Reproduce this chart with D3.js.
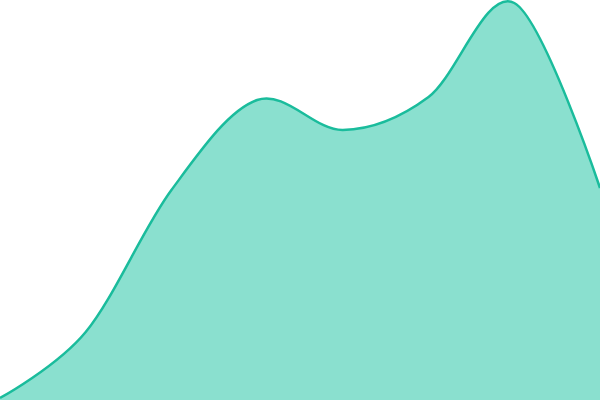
<!DOCTYPE html>
<html><head><meta charset="utf-8">
<script src="https://cdn.jsdelivr.net/npm/d3@7"></script>
<style>html,body{margin:0;padding:0;background:#fff}svg{display:block}</style>
</head><body>
<svg id="c" width="600" height="400"></svg>
<script>
const categories = [0,1,2,3,4,5,6,7];
const values = [2, 68, 210, 300, 270, 303, 397, 212];

const W = 600, H = 400;
const svg = d3.select("#c");
const x = d3.scaleLinear().domain([0, categories.length - 1]).range([0, W]);
const y = d3.scaleLinear().domain([0, 400]).range([H, 0]);
const data = categories.map((c, i) => ({c, v: values[i]}));

const area = d3.area().x(d => x(d.c)).y0(H).y1(d => y(d.v)).curve(d3.curveCardinal);
const line = d3.line().x(d => x(d.c)).y(d => y(d.v)).curve(d3.curveCardinal);

svg.append("path").datum(data).attr("d", area).attr("fill", "#8ae0cf");
svg.append("path").datum(data).attr("d", line).attr("fill", "none").attr("stroke", "#1abc9c").attr("stroke-width", 2.5);
</script>
</body></html>
